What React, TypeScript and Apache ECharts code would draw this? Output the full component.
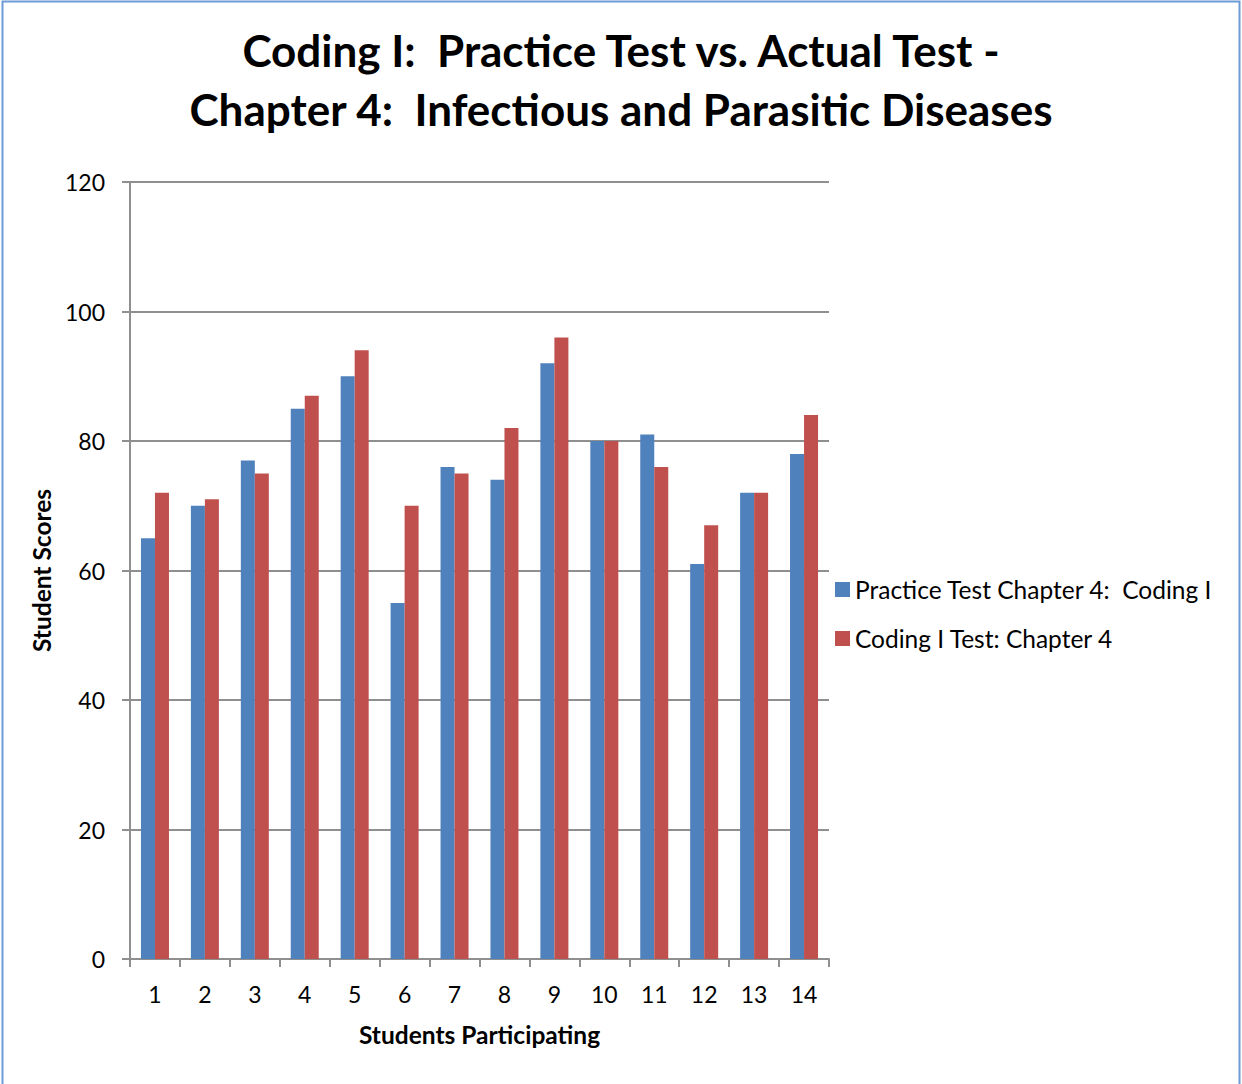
import React, { useEffect, useRef } from "react";
import * as echarts from "echarts";

const categories = ["1", "2", "3", "4", "5", "6", "7", "8", "9", "10", "11", "12", "13", "14"];
const practiceScores = [65, 70, 77, 85, 90, 55, 76, 74, 92, 80, 81, 61, 72, 78];
const actualScores = [72, 71, 75, 87, 94, 70, 75, 82, 96, 80, 76, 67, 72, 84];
const seriesNames = ["Practice Test Chapter 4:  Coding I", "Coding I Test: Chapter 4"];
const titleLines = [
  "Coding I:  Practice Test vs. Actual Test -",
  "Chapter 4:  Infectious and Parasitic Diseases",
];

const FONT = "Lato, 'Open Sans', sans-serif";
const GRID_COLOR = "#8f8f8f";

export default function App() {
  const ref = useRef<HTMLDivElement>(null);
  useEffect(() => {
    if (!ref.current) return;
    const chart = echarts.init(ref.current, null, { renderer: "svg" });
    chart.setOption({
      animation: false,
      backgroundColor: "#ffffff",
      textStyle: { fontFamily: FONT },
      title: {
        text: titleLines.join("\n"),
        left: "center",
        top: 15,
        textStyle: {
          fontFamily: FONT,
          fontSize: 44,
          fontWeight: "bold",
          lineHeight: 59,
          color: "#000000",
        },
      },
      graphic: [
        {
          type: "rect",
          shape: { x: 2.5, y: 1.5, width: 1237, height: 1100 },
          style: { fill: "none", stroke: "#6d9bd8", lineWidth: 2 },
          silent: true,
          z: 100,
        },
      ],
      legend: {
        orient: "vertical",
        left: 835,
        top: 577,
        padding: 0,
        itemWidth: 15,
        itemHeight: 15,
        itemGap: 24,
        icon: "rect",
        textStyle: { fontFamily: FONT, fontSize: 24.5, color: "#000000" },
        data: seriesNames,
      },
      grid: { left: 130, right: 413, top: 182, bottom: 125, containLabel: false },
      xAxis: {
        type: "category",
        data: categories,
        name: "Students Participating",
        nameLocation: "middle",
        nameGap: 63,
        nameTextStyle: { fontFamily: FONT, fontSize: 24.5, fontWeight: "bold", color: "#000000" },
        axisLine: { show: true, lineStyle: { color: GRID_COLOR, width: 2 } },
        axisTick: { show: true, length: 8, lineStyle: { color: GRID_COLOR, width: 2 } },
        axisLabel: { fontFamily: FONT, fontSize: 23, color: "#000000", margin: 23 },
      },
      yAxis: {
        type: "value",
        min: 0,
        max: 120,
        interval: 20,
        name: "Student Scores",
        nameLocation: "middle",
        nameGap: 76,
        nameTextStyle: { fontFamily: FONT, fontSize: 24.5, fontWeight: "bold", color: "#000000" },
        axisLine: { show: true, lineStyle: { color: GRID_COLOR, width: 2 } },
        axisTick: { show: true, length: 8, lineStyle: { color: GRID_COLOR, width: 2 } },
        axisLabel: { fontFamily: FONT, fontSize: 23, color: "#000000", margin: 25 },
        splitLine: { show: true, lineStyle: { color: GRID_COLOR, width: 2 } },
      },
      series: [
        {
          name: seriesNames[0],
          type: "bar",
          data: practiceScores,
          barWidth: 14,
          barGap: "0%",
          itemStyle: { color: "#4f81bd" },
        },
        {
          name: seriesNames[1],
          type: "bar",
          data: actualScores,
          barWidth: 14,
          barGap: "0%",
          itemStyle: { color: "#c0504d" },
        },
      ],
    });
    return () => chart.dispose();
  }, []);
  return (
    <div
      ref={ref}
      style={{ position: "absolute", left: 0, top: 0, width: 1242, height: 1084 }}
    />
  );
}
